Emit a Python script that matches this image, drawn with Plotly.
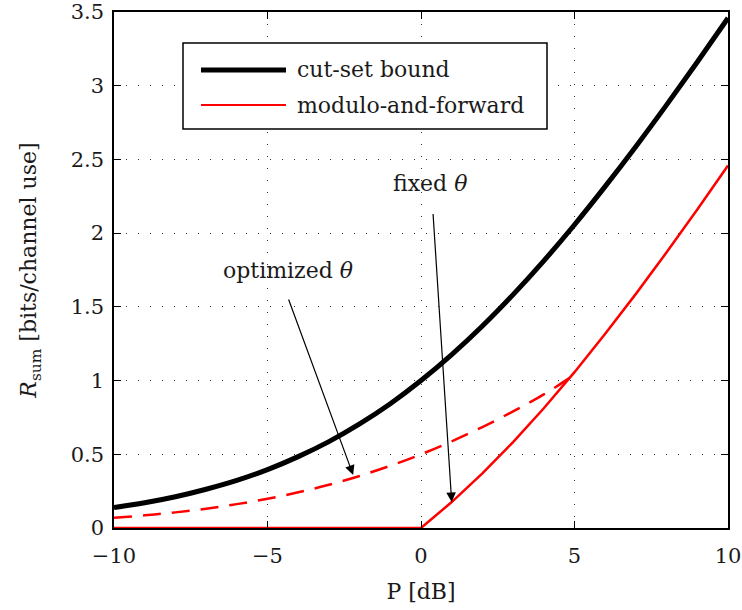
import plotly.graph_objects as go

# P in dB
p_db = [-10, -9, -8, -7, -6, -5, -4, -3, -2, -1, 0, 1, 2, 3, 4, 5, 6, 7, 8, 9, 10]
cut_set = [0.138, 0.171, 0.212, 0.263, 0.323, 0.396, 0.484, 0.586, 0.706, 0.843, 1.000,
           1.176, 1.370, 1.583, 1.812, 2.057, 2.317, 2.588, 2.870, 3.161, 3.459]
maf_fixed = [0, 0, 0, 0, 0, 0, 0, 0, 0, 0, 0.000,
             0.176, 0.370, 0.583, 0.812, 1.057, 1.317, 1.588, 1.870, 2.161, 2.459]
p_db_opt = [-10, -9, -8, -7, -6, -5, -4, -3, -2, -1, 0, 1, 2, 3, 4, 5]
maf_opt = [0.069, 0.086, 0.106, 0.131, 0.162, 0.198, 0.242, 0.293, 0.353, 0.422, 0.500,
           0.588, 0.685, 0.791, 0.906, 1.040]

x_ticks = [-10, -5, 0, 5, 10]
y_ticks = [0, 0.5, 1, 1.5, 2, 2.5, 3, 3.5]
legend_labels = ["cut-set bound", "modulo-and-forward"]

FONT = "DejaVu Serif"
FS = 22
TFS = 21
TXT = "#1a1a1a"

fig = go.Figure()
fig.add_trace(go.Scatter(x=p_db, y=cut_set, mode="lines", name=legend_labels[0],
                         line=dict(color="black", width=5, shape="spline"), showlegend=False))
fig.add_trace(go.Scatter(x=p_db_opt, y=maf_opt, mode="lines", name="optimized",
                         line=dict(color="#ff0000", width=2.5, dash="18px,11px", shape="spline"),
                         showlegend=False))
fig.add_trace(go.Scatter(x=p_db, y=maf_fixed, mode="lines", name=legend_labels[1],
                         line=dict(color="#ff0000", width=2.5), showlegend=False, cliponaxis=False))

axis_common = dict(showline=True, linecolor="black", linewidth=1.5, mirror="ticks",
                   ticks="inside", ticklen=7, tickcolor="black", tickwidth=1,
                   showgrid=True, gridcolor="#333333", gridwidth=1, griddash="1px,11px",
                   zeroline=False, automargin=False,
                   tickfont=dict(family=FONT, size=TFS, color=TXT))

fig.update_xaxes(range=[-10, 10], tickvals=x_ticks, **axis_common, ticklabelstandoff=8,
                 title=dict(text="P [dB]", font=dict(family=FONT, size=FS, color=TXT), standoff=17))
fig.update_yaxes(range=[0, 3.5], tickvals=y_ticks, **axis_common, ticklabelstandoff=4,
                 title=dict(text="<i>R</i><sub>sum</sub> [bits/channel use]",
                            font=dict(family=FONT, size=FS, color=TXT), standoff=28))

# Legend drawn in paper coords
shapes = [
    dict(type="rect", xref="paper", yref="paper", x0=(183-114)/614, x1=(547-114)/614,
         y0=(528-129)/516, y1=(528-43)/516, line=dict(color="black", width=1.5),
         fillcolor="white", layer="above"),
    dict(type="line", xref="paper", yref="paper", x0=(201-114)/614, x1=(286-114)/614,
         y0=(528-70)/516, y1=(528-70)/516, line=dict(color="black", width=5), layer="above"),
    dict(type="line", xref="paper", yref="paper", x0=(201-114)/614, x1=(286-114)/614,
         y0=(528-105)/516, y1=(528-105)/516, line=dict(color="#ff0000", width=2), layer="above"),
]
annotations = [
    dict(xref="paper", yref="paper", x=(295-114)/614, y=(528-70)/516, text=legend_labels[0],
         showarrow=False, xanchor="left", yanchor="middle", font=dict(family=FONT, size=FS, color=TXT)),
    dict(xref="paper", yref="paper", x=(295-114)/614, y=(528-105)/516, text=legend_labels[1],
         showarrow=False, xanchor="left", yanchor="middle", font=dict(family=FONT, size=FS, color=TXT)),
    # text labels
    dict(x=0.29, y=2.34, xref="x", yref="y", text="fixed <i>θ</i>", showarrow=False,
         font=dict(family=FONT, size=FS, color=TXT)),
    dict(x=-4.33, y=1.75, xref="x", yref="y", text="optimized <i>θ</i>", showarrow=False,
         font=dict(family=FONT, size=FS, color=TXT)),
    # arrows
    dict(x=1.0, y=0.176, xref="x", yref="y", ax=0.39, ay=2.14, axref="x", ayref="y",
         text="", showarrow=True, arrowhead=2, arrowsize=1.6, arrowwidth=1.2, arrowcolor="black"),
    dict(x=-2.21, y=0.36, xref="x", yref="y", ax=-4.33, ay=1.56, axref="x", ayref="y",
         text="", showarrow=True, arrowhead=2, arrowsize=1.6, arrowwidth=1.2, arrowcolor="black"),
]

fig.update_layout(width=742, height=610, margin=dict(l=114, r=14, t=12, b=82, autoexpand=False),
                  paper_bgcolor="white", plot_bgcolor="white",
                  shapes=shapes, annotations=annotations, showlegend=False)

fig.write_html("out.html", config={"displayModeBar": False},
               post_script="document.body.style.margin='0px';")
